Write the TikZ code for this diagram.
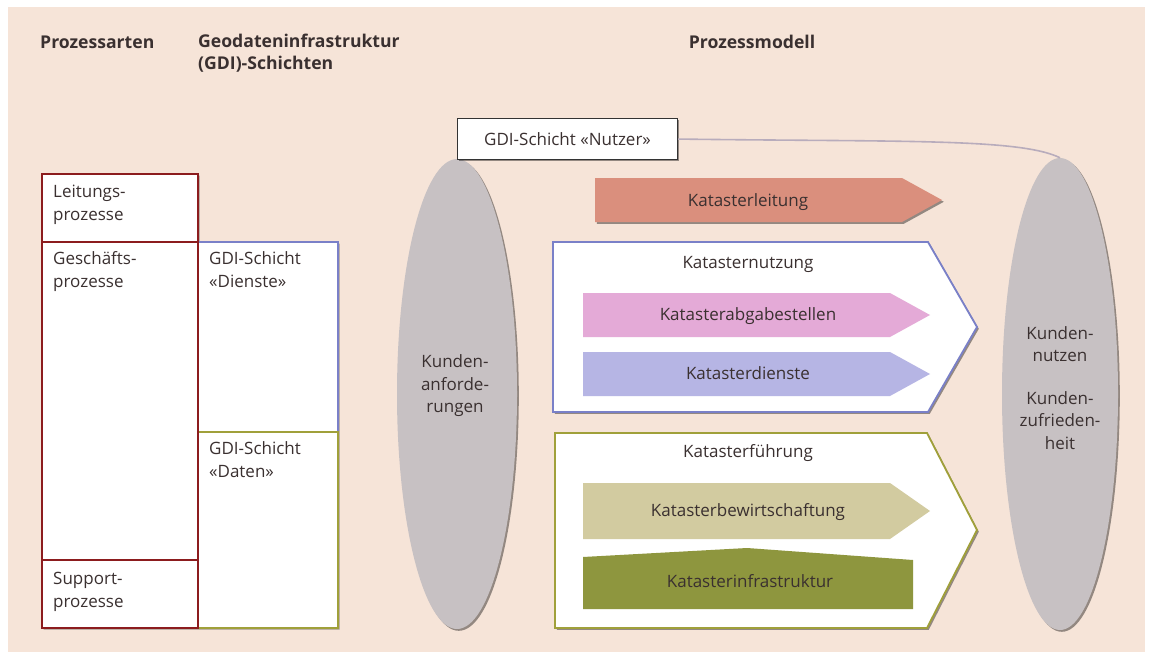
\documentclass[tikz,border=0pt]{standalone}
\usepackage{fontspec}
\setmainfont{Open Sans}
\usetikzlibrary{shapes.geometric,shadows}
\definecolor{bg}{RGB}{246,228,216}
\definecolor{txt}{RGB}{58,48,48}
\definecolor{redb}{RGB}{140,28,30}
\definecolor{blueb}{RGB}{122,128,200}
\definecolor{oliveb}{RGB}{160,160,58}
\definecolor{salmon}{RGB}{218,143,125}
\definecolor{pinkf}{RGB}{228,170,215}
\definecolor{lavf}{RGB}{182,181,228}
\definecolor{khakif}{RGB}{210,203,160}
\definecolor{olivef}{RGB}{142,150,62}
\definecolor{ellg}{RGB}{199,193,195}
\definecolor{connc}{RGB}{184,172,188}
\tikzset{
  softshadow/.style={drop shadow={shadow xshift=1.8pt,shadow yshift=-1.8pt,fill=black,opacity=0.4}},
  redbox/.style={draw=redb,fill=white,line width=1.6pt,rectangle,anchor=north west},
  bluebox/.style={draw=blueb,fill=white,line width=1.6pt,rectangle,anchor=north west},
  olivebox/.style={draw=oliveb,fill=white,line width=1.6pt,rectangle,anchor=north west},
  boxtext/.style={anchor=north west,align=left},
  head/.style={font=\fontsize{17.6}{22}\selectfont\bfseries},
  ell/.style={ellipse,fill=ellg,softshadow},
  conn/.style={draw=connc,line width=1.6pt},
}
\begin{document}
\begin{tikzpicture}[x=1pt,y=-1pt,
  every node/.style={text=txt,font=\fontsize{17}{22.5}\selectfont,inner sep=0pt}]
\useasboundingbox (0,0) rectangle (1152,656);
\fill[white] (0,0) rectangle (1152,656);
\fill[bg] (8,7) rectangle (1145,652);

% headers
\node[head,anchor=base west] (h1) at (40,48) {Prozessarten};
\node[head,anchor=north west,align=left] (h2) at (198,32) {\strut Geodateninfrastruktur\\(GDI)-Schichten};
\node[head,anchor=base] (h3) at (752,48) {Prozessmodell};

% left columns: combined shadow
\fill[black,opacity=0.35] (43.5,175.5) -- (199.5,175.5) -- (199.5,243.5) -- (339.5,243.5) -- (339.5,629.5) -- (43.5,629.5) -- cycle;
\node[bluebox,minimum width=140pt,minimum height=190pt] (gd) at (197,241) {};
\node[olivebox,minimum width=140pt,minimum height=196pt] (gda) at (197,431) {};
\node[redbox,minimum width=156pt,minimum height=68pt] (lp) at (41,173) {};
\node[redbox,minimum width=156pt,minimum height=318pt] (gp) at (41,241) {};
\node[redbox,minimum width=156pt,minimum height=68pt] (sp) at (41,559) {};
\node[boxtext] (lpt) at (53,182) {\strut Leitungs-\\prozesse};
\node[boxtext] (gpt) at (53,249) {\strut Geschäfts-\\prozesse};
\node[boxtext] (spt) at (53,569) {\strut Support-\\prozesse};
\node[boxtext] (gdt) at (209,249) {\strut GDI-Schicht\\«Dienste»};
\node[boxtext] (gdat) at (209,439) {\strut GDI-Schicht\\«Daten»};

% ellipses
\node[ell,minimum width=120pt,minimum height=470pt] (ellL) at (457,394) {};
\node[ell,minimum width=116pt,minimum height=472pt] (ellR) at (1060,394) {};
\node[align=center] (ellLt) at (455,386) {Kunden-\\anforde-\\rungen};
\node[align=center] (ellRt) at (1060,388) {Kunden-\\nutzen\\[20pt]Kunden-\\zufrieden-\\heit};

% Nutzer box and connector
\node[draw=black!80,fill=white,line width=1.1pt,minimum width=220pt,minimum height=41pt,anchor=north west,softshadow] (nu) at (457,118) {};
\node (nut) at (nu.center) {GDI-Schicht «Nutzer»};
\draw[conn] (nu.east) .. controls (900,142) and (1020,138) .. (ellR.north);

% Katasterleitung
\path[fill=salmon,softshadow] (595,178) -- (902,178) -- (942,200) -- (902,222) -- (595,222) -- cycle;
\node[anchor=base] (klt) at (748,206) {Katasterleitung};

% Katasternutzung
\path[draw=blueb,line width=1.8pt,fill=white,softshadow] (553,242) -- (928,242) -- (977,327) -- (928,412) -- (553,412) -- cycle;
\node[anchor=base] (knt) at (748,268) {Katasternutzung};
\path[fill=pinkf] (583,293) -- (890,293) -- (930,315) -- (890,337) -- (583,337) -- cycle;
\node[anchor=base] (kat) at (748,320) {Katasterabgabestellen};
\path[fill=lavf] (583,352) -- (890,352) -- (930,374) -- (890,396) -- (583,396) -- cycle;
\node[anchor=base] (kdt) at (748,379) {Katasterdienste};

% Katasterfuehrung
\path[draw=oliveb,line width=1.8pt,fill=white,softshadow] (555,433) -- (927,433) -- (977,530) -- (927,628) -- (555,628) -- cycle;
\node[anchor=base] (kft) at (748,457) {Katasterführung};
\path[fill=khakif] (583,483) -- (890,483) -- (930,511) -- (890,539) -- (583,539) -- cycle;
\node[anchor=base] (kbt) at (748,516) {Katasterbewirtschaftung};
\path[fill=olivef] (583,557) -- (747,548) -- (913,560) -- (913,609) -- (583,609) -- cycle;
\node[anchor=base] (kit) at (750,587) {Katasterinfrastruktur};
\end{tikzpicture}
\end{document}
